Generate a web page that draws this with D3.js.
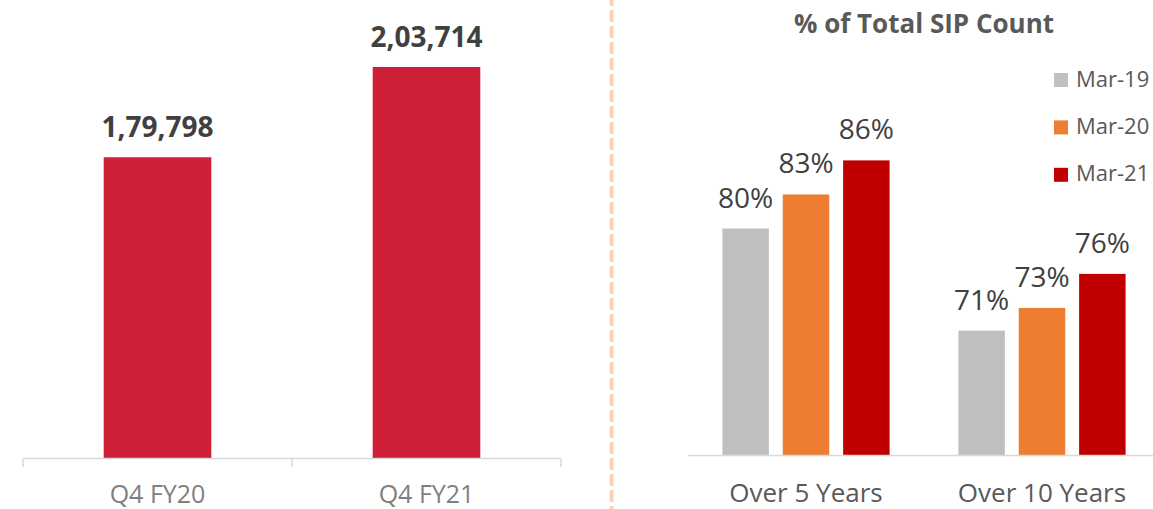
<!DOCTYPE html>
<html>
<head>
<meta charset="utf-8">
<script src="https://cdn.jsdelivr.net/npm/d3@7"></script>
<style>
  html, body { margin: 0; padding: 0; background: #ffffff; }
  svg { display: block; font-family: "Open Sans", "Noto Sans", sans-serif; }
</style>
</head>
<body>
<svg id="chart" width="1153" height="509"></svg>
<script>
// SIP count by quarter
const quarters = ["Q4 FY20", "Q4 FY21"];
const sipCounts = [179798, 203714];

// Share of SIPs by tenure, per snapshot month
const tenureGroups = ["Over 5 Years", "Over 10 Years"];
const snapshots = ["Mar-19", "Mar-20", "Mar-21"];
const over5Years = [80, 83, 86];
const over10Years = [71, 73, 76];
const snapshotColors = ["#bfbfbf", "#ed7d31", "#c00000"];

const svg = d3.select("#chart");

// Indian digit grouping: 1,79,798
const inLocale = d3.formatLocale({ decimal: ".", thousands: ",", grouping: [3, 2], currency: ["₹", ""] });
const fmtCount = inLocale.format(",d");

/* ---------- Left panel: SIP count ---------- */
const xQ = d3.scaleBand().domain(quarters).range([23, 561]).padding(0);
const yQ = d3.scaleLinear().domain([100000, 220000]).range([458.5, 5.5]);
const left = svg.append("g");

const qData = quarters.map((q, i) => ({ q, v: sipCounts[i] }));

left.selectAll("rect.bar").data(qData).join("rect")
  .attr("class", "bar")
  .attr("x", d => xQ(d.q) + xQ.bandwidth() * 0.3)
  .attr("width", xQ.bandwidth() * 0.4)
  .attr("y", d => yQ(d.v))
  .attr("height", d => yQ.range()[0] - yQ(d.v))
  .attr("fill", "#ce1f37");

// category axis with ticks at band boundaries
const qBase = yQ.range()[0];
const qBounds = [xQ.range()[0]].concat(quarters.map(q => xQ(q) + xQ.bandwidth()));
left.append("line")
  .attr("x1", xQ.range()[0]).attr("x2", xQ.range()[1])
  .attr("y1", qBase).attr("y2", qBase)
  .attr("stroke", "#d9d9d9").attr("stroke-width", 1.5);
left.selectAll("line.tick").data(qBounds).join("line")
  .attr("class", "tick")
  .attr("x1", d => d).attr("x2", d => d)
  .attr("y1", qBase).attr("y2", qBase + 8.5)
  .attr("stroke", "#d9d9d9").attr("stroke-width", 1.5);

left.selectAll("text.cat").data(quarters).join("text")
  .attr("class", "cat")
  .attr("x", d => xQ(d) + xQ.bandwidth() / 2)
  .attr("y", 502.5)
  .attr("text-anchor", "middle")
  .attr("font-size", 25)
  .attr("fill", "#7f7f7f")
  .text(d => d);

left.selectAll("text.val").data(qData).join("text")
  .attr("class", "val")
  .attr("x", d => xQ(d.q) + xQ.bandwidth() / 2)
  .attr("y", d => yQ(d.v) - 20)
  .attr("text-anchor", "middle")
  .attr("font-size", 28)
  .attr("font-weight", 700)
  .attr("fill", "#404040")
  .text(d => fmtCount(d.v));

/* ---------- Divider ---------- */
svg.append("line")
  .attr("x1", 611.5).attr("x2", 611.5)
  .attr("y1", 0).attr("y2", 509)
  .attr("stroke", "#f9d0b8")
  .attr("stroke-width", 4)
  .attr("stroke-dasharray", "12,4")
  .attr("stroke-dashoffset", 6);

/* ---------- Right panel: % of total SIP count ---------- */
const right = svg.append("g");
const x0 = d3.scaleBand().domain(tenureGroups).range([688, 1160]).padding(0);
const x1 = d3.scaleBand().domain(snapshots).range([0, x0.bandwidth()])
  .paddingInner(0.23).paddingOuter(0.57);
const yP = d3.scaleLinear().domain([60, 100]).range([455.5, 1.5]);
const color = d3.scaleOrdinal().domain(snapshots).range(snapshotColors);

const groupValues = [over5Years, over10Years];
const pData = [];
tenureGroups.forEach((g, gi) => {
  snapshots.forEach((s, si) => pData.push({ g, s, v: groupValues[gi][si] }));
});

right.append("text")
  .attr("x", 924).attr("y", 33)
  .attr("text-anchor", "middle")
  .attr("font-size", 26)
  .attr("font-weight", 700)
  .attr("fill", "#595959")
  .text("% of Total SIP Count");

right.selectAll("rect.bar").data(pData).join("rect")
  .attr("class", "bar")
  .attr("x", d => x0(d.g) + x1(d.s))
  .attr("width", x1.bandwidth())
  .attr("y", d => yP(d.v))
  .attr("height", d => yP.range()[0] - yP(d.v))
  .attr("fill", d => color(d.s));

right.append("line")
  .attr("x1", x0.range()[0]).attr("x2", x0.range()[1])
  .attr("y1", yP.range()[0]).attr("y2", yP.range()[0])
  .attr("stroke", "#d9d9d9").attr("stroke-width", 1.5);

right.selectAll("text.val").data(pData).join("text")
  .attr("class", "val")
  .attr("x", d => x0(d.g) + x1(d.s) + x1.bandwidth() / 2)
  .attr("y", d => yP(d.v) - 21)
  .attr("text-anchor", "middle")
  .attr("font-size", 28)
  .attr("fill", "#404040")
  .text(d => d.v + "%");

right.selectAll("text.cat").data(tenureGroups).join("text")
  .attr("class", "cat")
  .attr("x", d => x0(d) + x0.bandwidth() / 2)
  .attr("y", 502)
  .attr("text-anchor", "middle")
  .attr("font-size", 26)
  .attr("fill", "#595959")
  .text(d => d);

// legend
const legend = right.selectAll("g.legend").data(snapshots).join("g")
  .attr("class", "legend")
  .attr("transform", (d, i) => `translate(1054, ${73 + i * 47.4})`);
legend.append("rect")
  .attr("width", 14).attr("height", 14)
  .attr("fill", d => color(d));
legend.append("text")
  .attr("x", 22).attr("y", 13.5)
  .attr("font-size", 22)
  .attr("fill", "#595959")
  .text(d => d);
</script>
</body>
</html>
